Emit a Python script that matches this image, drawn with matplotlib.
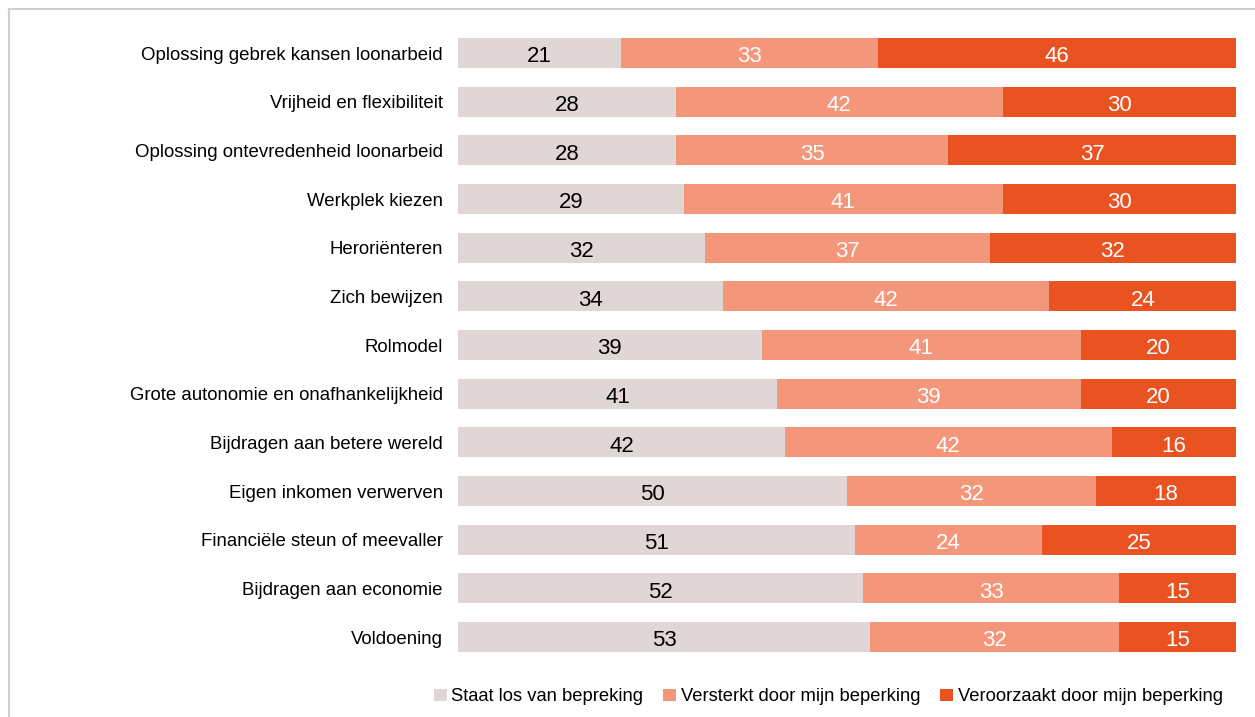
import matplotlib.pyplot as plt
import numpy as np

categories = [
    "Oplossing gebrek kansen loonarbeid",
    "Vrijheid en flexibiliteit",
    "Oplossing ontevredenheid loonarbeid",
    "Werkplek kiezen",
    "Heroriënteren",
    "Zich bewijzen",
    "Rolmodel",
    "Grote autonomie en onafhankelijkheid",
    "Bijdragen aan betere wereld",
    "Eigen inkomen verwerven",
    "Financiële steun of meevaller",
    "Bijdragen aan economie",
    "Voldoening",
]
staat_los = [21, 28, 28, 29, 32, 34, 39, 41, 42, 50, 51, 52, 53]
versterkt = [33, 42, 35, 41, 37, 42, 41, 39, 42, 32, 24, 33, 32]
veroorzaakt = [46, 30, 37, 30, 32, 24, 20, 20, 16, 18, 25, 15, 15]

series = [
    ("Staat los van bepreking", staat_los, "#E0D6D6", "black"),
    ("Versterkt door mijn beperking", versterkt, "#F4967A", "white"),
    ("Veroorzaakt door mijn beperking", veroorzaakt, "#E95322", "white"),
]

plt.rcParams['font.family'] = ['Liberation Sans', 'DejaVu Sans']


def main():
    fig = plt.figure(figsize=(12.55, 7.17), dpi=100)
    ax = fig.add_axes([0.365, 0.0776, 0.62, 0.8824])

    totals = np.array(staat_los) + np.array(versterkt) + np.array(veroorzaakt)
    y = np.arange(len(categories))
    left = np.zeros(len(categories))
    for name, vals, color, tcolor in series:
        vals = np.array(vals, dtype=float)
        w = vals / totals * 100
        ax.barh(y, w, left=left, height=0.62, color=color, label=name,
                linewidth=0)
        for yi, li, wi, v in zip(y, left, w, vals):
            ax.text(li + wi / 2, yi + 0.03, f"{int(v)}", ha="center",
                    va="center_baseline", color=tcolor, fontsize=16)
        left += w

    ax.set_xlim(0, 100)
    ax.set_ylim(len(categories) - 0.5, -0.5)
    ax.set_yticks(y)
    ax.set_yticklabels(categories, fontsize=13.4)
    ax.tick_params(axis="y", length=0, pad=11)
    ax.set_xticks([])
    for s in ax.spines.values():
        s.set_visible(False)

    fig.legend(loc="center", bbox_to_anchor=(0.66, 0.028), ncol=3,
               frameon=False, fontsize=13.2, handlelength=0.7,
               handleheight=0.7, handletextpad=0.25, columnspacing=1.1)

    # light grey frame around the chart area
    fig.add_artist(plt.Line2D([9 / 1255, 9 / 1255], [0, 1 - 9 / 717],
                              transform=fig.transFigure, color="#D0D0D0", lw=1.5))
    fig.add_artist(plt.Line2D([9 / 1255, 1], [1 - 9 / 717, 1 - 9 / 717],
                              transform=fig.transFigure, color="#D0D0D0", lw=1.5))

    fig.savefig("out.png", dpi=100)


if __name__ == "__main__":
    main()
